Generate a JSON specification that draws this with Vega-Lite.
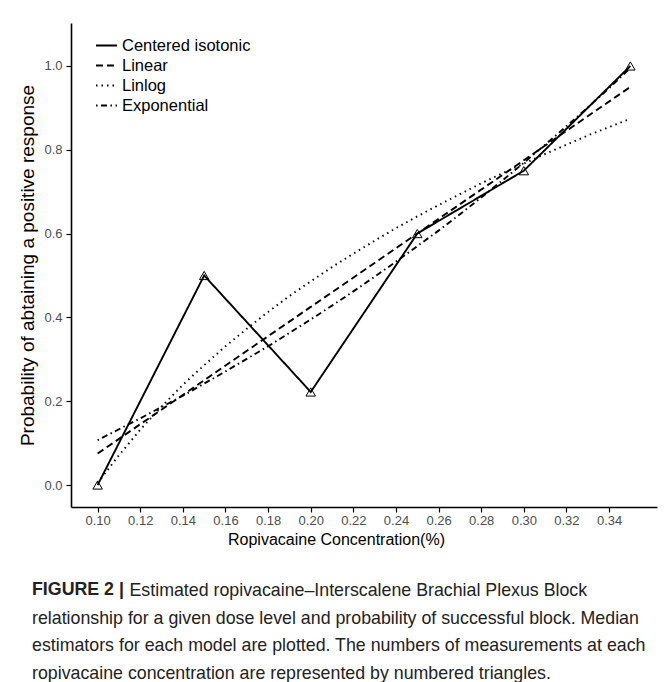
{
  "$schema": "https://vega.github.io/schema/vega-lite/v6.json",
  "autosize": {"type": "none"},
  "width": 586,
  "height": 484,
  "padding": {"left": 71, "top": 23, "right": 12, "bottom": 175},
  "background": "white",
  "config": {
    "font": "Liberation Sans",
    "view": {"stroke": null},
    "axis": {"grid": false, "domainColor": "black", "domainWidth": 1.6, "tickColor": "black", "tickWidth": 1.2, "tickSize": 5, "labelColor": "#4d4d4d", "labelFontSize": 13, "titleFontSize": 16, "titleFontWeight": "normal", "titleColor": "black"}
  },
  "title": {
    "text": "FIGURE 2 |",
    "subtitle": [
      "\u200b\u2007\u2007\u2007\u2007\u2007\u2007\u2007\u2007\u2007\u00a0\u2009Estimated ropivacaine\u2013Interscalene Brachial Plexus Block",
      "relationship for a given dose level and probability of successful block. Median",
      "estimators for each model are plotted. The numbers of measurements at each",
      "ropivacaine concentration are represented by numbered triangles."
    ],
    "orient": "bottom",
    "anchor": "start",
    "frame": "group",
    "dx": -39,
    "offset": 33.5,
    "fontSize": 17.8,
    "fontWeight": "bold",
    "color": "#222222",
    "lineHeight": 27.5,
    "subtitleFontSize": 17.8,
    "subtitleColor": "#222222",
    "subtitleLineHeight": 27.5,
    "subtitlePadding": -16
  },
  "data": {
    "values": [
      {"model": "Centered isotonic", "x": 0.10, "p": 0.0},
      {"model": "Centered isotonic", "x": 0.15, "p": 0.5},
      {"model": "Centered isotonic", "x": 0.20, "p": 0.222},
      {"model": "Centered isotonic", "x": 0.25, "p": 0.6},
      {"model": "Centered isotonic", "x": 0.30, "p": 0.75},
      {"model": "Centered isotonic", "x": 0.35, "p": 1.0},
      {"model": "Linear", "x": 0.10, "p": 0.075},
      {"model": "Linear", "x": 0.15, "p": 0.25},
      {"model": "Linear", "x": 0.20, "p": 0.425},
      {"model": "Linear", "x": 0.25, "p": 0.60},
      {"model": "Linear", "x": 0.30, "p": 0.775},
      {"model": "Linear", "x": 0.35, "p": 0.95},
      {"model": "Linlog", "x": 0.10, "p": 0.005},
      {"model": "Linlog", "x": 0.11, "p": 0.071},
      {"model": "Linlog", "x": 0.12, "p": 0.132},
      {"model": "Linlog", "x": 0.13, "p": 0.187},
      {"model": "Linlog", "x": 0.14, "p": 0.239},
      {"model": "Linlog", "x": 0.15, "p": 0.286},
      {"model": "Linlog", "x": 0.16, "p": 0.331},
      {"model": "Linlog", "x": 0.17, "p": 0.373},
      {"model": "Linlog", "x": 0.18, "p": 0.413},
      {"model": "Linlog", "x": 0.19, "p": 0.451},
      {"model": "Linlog", "x": 0.20, "p": 0.486},
      {"model": "Linlog", "x": 0.21, "p": 0.520},
      {"model": "Linlog", "x": 0.22, "p": 0.552},
      {"model": "Linlog", "x": 0.23, "p": 0.583},
      {"model": "Linlog", "x": 0.24, "p": 0.613},
      {"model": "Linlog", "x": 0.25, "p": 0.641},
      {"model": "Linlog", "x": 0.26, "p": 0.668},
      {"model": "Linlog", "x": 0.27, "p": 0.694},
      {"model": "Linlog", "x": 0.28, "p": 0.720},
      {"model": "Linlog", "x": 0.29, "p": 0.744},
      {"model": "Linlog", "x": 0.30, "p": 0.767},
      {"model": "Linlog", "x": 0.31, "p": 0.790},
      {"model": "Linlog", "x": 0.32, "p": 0.812},
      {"model": "Linlog", "x": 0.33, "p": 0.834},
      {"model": "Linlog", "x": 0.34, "p": 0.854},
      {"model": "Linlog", "x": 0.35, "p": 0.874},
      {"model": "Exponential", "x": 0.10, "p": 0.107},
      {"model": "Exponential", "x": 0.11, "p": 0.133},
      {"model": "Exponential", "x": 0.12, "p": 0.159},
      {"model": "Exponential", "x": 0.13, "p": 0.186},
      {"model": "Exponential", "x": 0.14, "p": 0.213},
      {"model": "Exponential", "x": 0.15, "p": 0.242},
      {"model": "Exponential", "x": 0.16, "p": 0.271},
      {"model": "Exponential", "x": 0.17, "p": 0.301},
      {"model": "Exponential", "x": 0.18, "p": 0.331},
      {"model": "Exponential", "x": 0.19, "p": 0.363},
      {"model": "Exponential", "x": 0.20, "p": 0.395},
      {"model": "Exponential", "x": 0.21, "p": 0.428},
      {"model": "Exponential", "x": 0.22, "p": 0.462},
      {"model": "Exponential", "x": 0.23, "p": 0.497},
      {"model": "Exponential", "x": 0.24, "p": 0.533},
      {"model": "Exponential", "x": 0.25, "p": 0.570},
      {"model": "Exponential", "x": 0.26, "p": 0.607},
      {"model": "Exponential", "x": 0.27, "p": 0.646},
      {"model": "Exponential", "x": 0.28, "p": 0.686},
      {"model": "Exponential", "x": 0.29, "p": 0.727},
      {"model": "Exponential", "x": 0.30, "p": 0.769},
      {"model": "Exponential", "x": 0.31, "p": 0.812},
      {"model": "Exponential", "x": 0.32, "p": 0.856},
      {"model": "Exponential", "x": 0.33, "p": 0.901},
      {"model": "Exponential", "x": 0.34, "p": 0.947},
      {"model": "Exponential", "x": 0.35, "p": 0.995}
    ]
  },
  "encoding": {
    "x": {
      "field": "x", "type": "quantitative",
      "scale": {"domain": [0.0875, 0.3625], "nice": false, "zero": false},
      "axis": {"values": [0.10, 0.12, 0.14, 0.16, 0.18, 0.20, 0.22, 0.24, 0.26, 0.28, 0.30, 0.32, 0.34], "format": ".2f", "title": "Ropivacaine Concentration(%)", "labelPadding": 2, "titlePadding": 4, "titleX": 265}
    },
    "y": {
      "field": "p", "type": "quantitative",
      "scale": {"domain": [-0.0525, 1.1025], "nice": false, "zero": false},
      "axis": {"values": [0, 0.2, 0.4, 0.6, 0.8, 1.0], "format": ".1f", "title": "Probability of abtaining a positive response", "titleFontSize": 19, "labelPadding": 4, "titlePadding": 6}
    }
  },
  "layer": [
    {
      "mark": {"type": "line", "color": "black", "strokeWidth": 1.9},
      "encoding": {
        "strokeDash": {
          "field": "model", "type": "nominal",
          "sort": ["Centered isotonic", "Linear", "Linlog", "Exponential"],
          "scale": {"domain": ["Centered isotonic", "Linear", "Linlog", "Exponential"], "range": [[1, 0], [7, 4], [1.5, 4], [1.5, 3.5, 6, 3.5]]},
          "legend": {"title": null, "orient": "none", "legendX": 24, "legendY": 11, "symbolType": "stroke", "symbolSize": 441, "symbolStrokeWidth": 2, "symbolStrokeColor": "black", "labelFontSize": 16.5, "labelColor": "black", "labelOffset": 4, "rowPadding": -1.5}
        }
      }
    },
    {
      "transform": [{"filter": "datum.model === 'Centered isotonic'"}],
      "mark": {"type": "point", "shape": "triangle-up", "filled": false, "color": "black", "strokeWidth": 1, "size": 90, "opacity": 1}
    }
  ]
}
